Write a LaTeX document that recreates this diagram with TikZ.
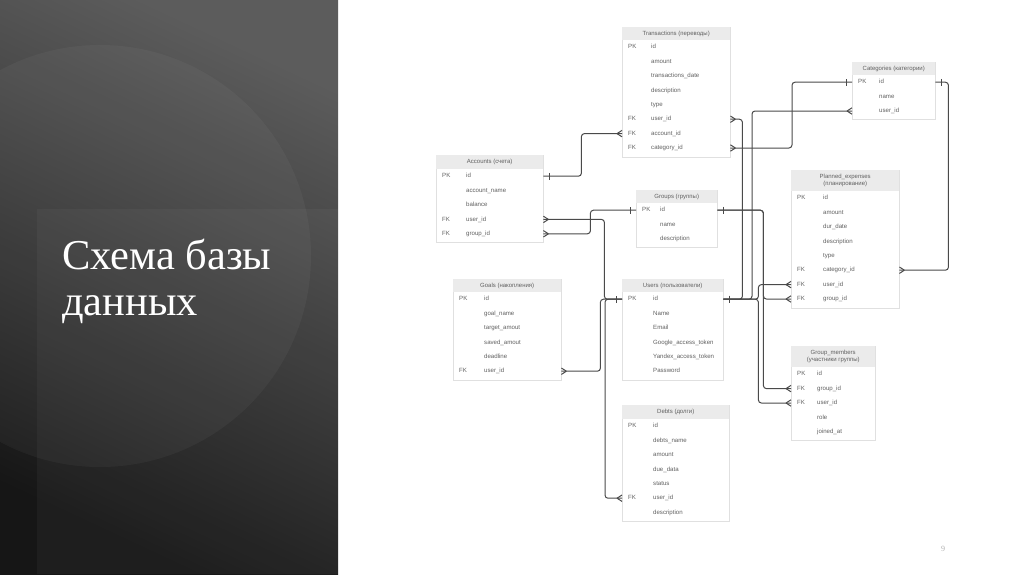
\documentclass[tikz,border=0pt]{standalone}
\usepackage{fontspec}
\setmainfont{Liberation Serif}
\newfontfamily\erfont{Liberation Sans}
\usepackage{xcolor}
\usepackage{tikz}
\usetikzlibrary{arrows.meta,shadows}

\definecolor{panelTop}{HTML}{5C5C5C}
\definecolor{panelBot}{HTML}{161616}
\definecolor{relgray}{HTML}{4a4a4a}
\definecolor{fldgray}{HTML}{606060}
\definecolor{headfill}{HTML}{EBEBEB}
\definecolor{tblline}{HTML}{E0E0E0}

% crow's foot (many) and single bar (one)
\pgfdeclarearrow{
  name = ercrow,
  setup code = {
    \pgfarrowssettipend{0pt}
    \pgfarrowssetlineend{0pt}
    \pgfarrowssetbackend{-5pt}
  },
  drawing code = {
    \pgfsetdash{}{0pt}
    \pgfpathmoveto{\pgfpoint{-5pt}{0pt}}
    \pgfpathlineto{\pgfpoint{0pt}{3.2pt}}
    \pgfpathmoveto{\pgfpoint{-5pt}{0pt}}
    \pgfpathlineto{\pgfpoint{0pt}{-3.2pt}}
    \pgfusepathqstroke
  }
}
\pgfdeclarearrow{
  name = erone,
  setup code = {
    \pgfarrowssettipend{0pt}
    \pgfarrowssetlineend{0pt}
    \pgfarrowssetbackend{-6pt}
  },
  drawing code = {
    \pgfsetdash{}{0pt}
    \pgfpathmoveto{\pgfpoint{-6pt}{-3.4pt}}
    \pgfpathlineto{\pgfpoint{-6pt}{3.4pt}}
    \pgfusepathqstroke
  }
}

\begin{document}
\begin{tikzpicture}[x=1pt, y=-1pt,
  tbl/.style={anchor=north west, draw=tblline, fill=white, line width=0.4pt, inner sep=0pt,
    drop shadow={opacity=0.08, shadow xshift=0.8pt, shadow yshift=-1pt}},
  thead/.style={anchor=north west, fill=headfill, inner sep=0pt, align=center,
    font=\erfont\fontsize{6}{6.8}\selectfont, text=fldgray},
  fld/.style={anchor=west, inner xsep=6pt, inner ysep=0pt, minimum height=14.4pt,
    text height=4.6pt, text depth=1.4pt,
    text width=#1, align=left, font=\erfont\fontsize{6.1}{7}\selectfont, text=fldgray},
  rel/.style={draw=relgray, line width=1pt, rounded corners=3pt}]

\useasboundingbox (0,0) rectangle (1024,574);
\fill[white] (0,0) rectangle (1024,574);

% left panel
\shade[top color=panelTop, bottom color=panelBot, shading angle=-25] (0,0) rectangle (338,574);
\begin{scope}
  \clip (0,0) rectangle (338,574);
  \fill[white, opacity=0.035] (37,209) rectangle (338,574);
  \fill[white, opacity=0.04] (100,256) circle (211);
\end{scope}
\node[anchor=north west, inner sep=0pt, align=left, text=white,
  font=\fontsize{42.5}{46}\selectfont] (title) at (62,239) {Схема базы\\данных};
\node[text=gray!60, font=\fontsize{8}{9}\selectfont] (pnum) at (943,549) {9};

% Transactions
\node[tbl, minimum width=108pt, minimum height=130pt] (tr) at (622,27) {};
\node[thead, minimum width=108pt, minimum height=13pt] (tr-h) at (622,27) {Transactions (переводы)};
\foreach \k/\f [count=\i] in {PK/id, /amount, /transactions\_date, /description, /type,
    FK/user\_id, FK/account\_id, FK/category\_id}
  \node[fld=96pt] (tr-\i) at ({622},{47.2+14.4*(\i-1)}) {\makebox[23pt][l]{\k}\f};

% Categories
\node[tbl, minimum width=83pt, minimum height=57pt] (ca) at (852,62) {};
\node[thead, minimum width=83pt, minimum height=13pt] (ca-h) at (852,62) {Categories (категории)};
\foreach \k/\f [count=\i] in {PK/id, /name, /user\_id}
  \node[fld=71pt] (ca-\i) at ({852},{82.2+14.4*(\i-1)}) {\makebox[21pt][l]{\k}\f};

% Accounts
\node[tbl, minimum width=107pt, minimum height=87pt] (acc) at (436,155) {};
\node[thead, minimum width=107pt, minimum height=14pt] (acc-h) at (436,155) {Accounts (счета)};
\foreach \k/\f [count=\i] in {PK/id, /account\_name, /balance, FK/user\_id, FK/group\_id}
  \node[fld=95pt] (acc-\i) at ({436},{176.2+14.4*(\i-1)}) {\makebox[24pt][l]{\k}\f};

% Groups
\node[tbl, minimum width=81pt, minimum height=57pt] (gr) at (636,190) {};
\node[thead, minimum width=81pt, minimum height=13pt] (gr-h) at (636,190) {Groups (группы)};
\foreach \k/\f [count=\i] in {PK/id, /name, /description}
  \node[fld=69pt] (gr-\i) at ({636},{210.2+14.4*(\i-1)}) {\makebox[18pt][l]{\k}\f};

% Planned_expenses
\node[tbl, minimum width=108pt, minimum height=138pt] (pl) at (791,170) {};
\node[thead, minimum width=108pt, minimum height=21pt] (pl-h) at (791,170) {Planned\_expenses\\(планирование)};
\foreach \k/\f [count=\i] in {PK/id, /amount, /dur\_date, /description, /type,
    FK/category\_id, FK/user\_id, FK/group\_id}
  \node[fld=96pt] (pl-\i) at ({791},{198.2+14.4*(\i-1)}) {\makebox[26pt][l]{\k}\f};

% Goals
\node[tbl, minimum width=108pt, minimum height=101pt] (go) at (453,279) {};
\node[thead, minimum width=108pt, minimum height=13pt] (go-h) at (453,279) {Goals (накопления)};
\foreach \k/\f [count=\i] in {PK/id, /goal\_name, /target\_amout, /saved\_amout, /deadline, FK/user\_id}
  \node[fld=96pt] (go-\i) at ({453},{299.2+14.4*(\i-1)}) {\makebox[25pt][l]{\k}\f};

% Users
\node[tbl, minimum width=101pt, minimum height=101pt] (us) at (622,279) {};
\node[thead, minimum width=101pt, minimum height=13pt] (us-h) at (622,279) {Users (пользователи)};
\foreach \k/\f [count=\i] in {PK/id, /Name, /Email, /Google\_access\_token, /Yandex\_access\_token, /Password}
  \node[fld=89pt] (us-\i) at ({622},{299.2+14.4*(\i-1)}) {\makebox[25pt][l]{\k}\f};

% Group_members
\node[tbl, minimum width=84pt, minimum height=94pt] (gm) at (791,346) {};
\node[thead, minimum width=84pt, minimum height=21pt] (gm-h) at (791,346) {Group\_members\\(участники группы)};
\foreach \k/\f [count=\i] in {PK/id, FK/group\_id, FK/user\_id, /role, /joined\_at}
  \node[fld=72pt] (gm-\i) at ({791},{374.2+14.4*(\i-1)}) {\makebox[20pt][l]{\k}\f};

% Debts
\node[tbl, minimum width=107pt, minimum height=116pt] (de) at (622,405) {};
\node[thead, minimum width=107pt, minimum height=14pt] (de-h) at (622,405) {Debts (долги)};
\foreach \k/\f [count=\i] in {PK/id, /debts\_name, /amount, /due\_data, /status, FK/user\_id, /description}
  \node[fld=95pt] (de-\i) at ({622},{426.2+14.4*(\i-1)}) {\makebox[25pt][l]{\k}\f};

% relations
\draw[rel, {erone}-{ercrow}] (acc-1.east) -- ++(38,0) |- (tr-7.west);
\draw[rel, {ercrow}-{erone}] (acc-4.east) -- ++(61,0) |- (us-1.west);
\draw[rel, {ercrow}-{erone}] (acc-5.east) -- ++(47,0) |- (gr-1.west);
\draw[rel, {ercrow}-{erone}] (go-6.east) -- ++(39,0) |- (us-1.west);
\draw[rel, {ercrow}-{erone}] (de-6.west) -- ++(-17,0) |- (us-1.west);
\draw[rel, {ercrow}-{erone}] (tr-6.east) -- ++(12,0) |- (us-1.east);
\draw[rel, {erone}-{ercrow}] (ca-1.west) -- ++(-60,0) |- (tr-8.east);
\draw[rel, {ercrow}-{erone}] (ca-3.west) -- ++(-100,0) |- (us-1.east);
\draw[rel, {erone}-{ercrow}] (gr-1.east) -- ++(46,0) |- (pl-8.west);
\draw[rel, {erone}-{ercrow}] (gr-1.east) -- ++(46,0) |- (gm-2.west);
\draw[rel, {erone}-{ercrow}] (us-1.east) -- ++(35,0) |- (pl-7.west);
\draw[rel, {erone}-{ercrow}] (us-1.east) -- ++(35,0) |- (gm-3.west);
\draw[rel, {ercrow}-{erone}] (pl-6.east) -- ++(49,0) |- (ca-1.east);

\end{tikzpicture}
\end{document}
